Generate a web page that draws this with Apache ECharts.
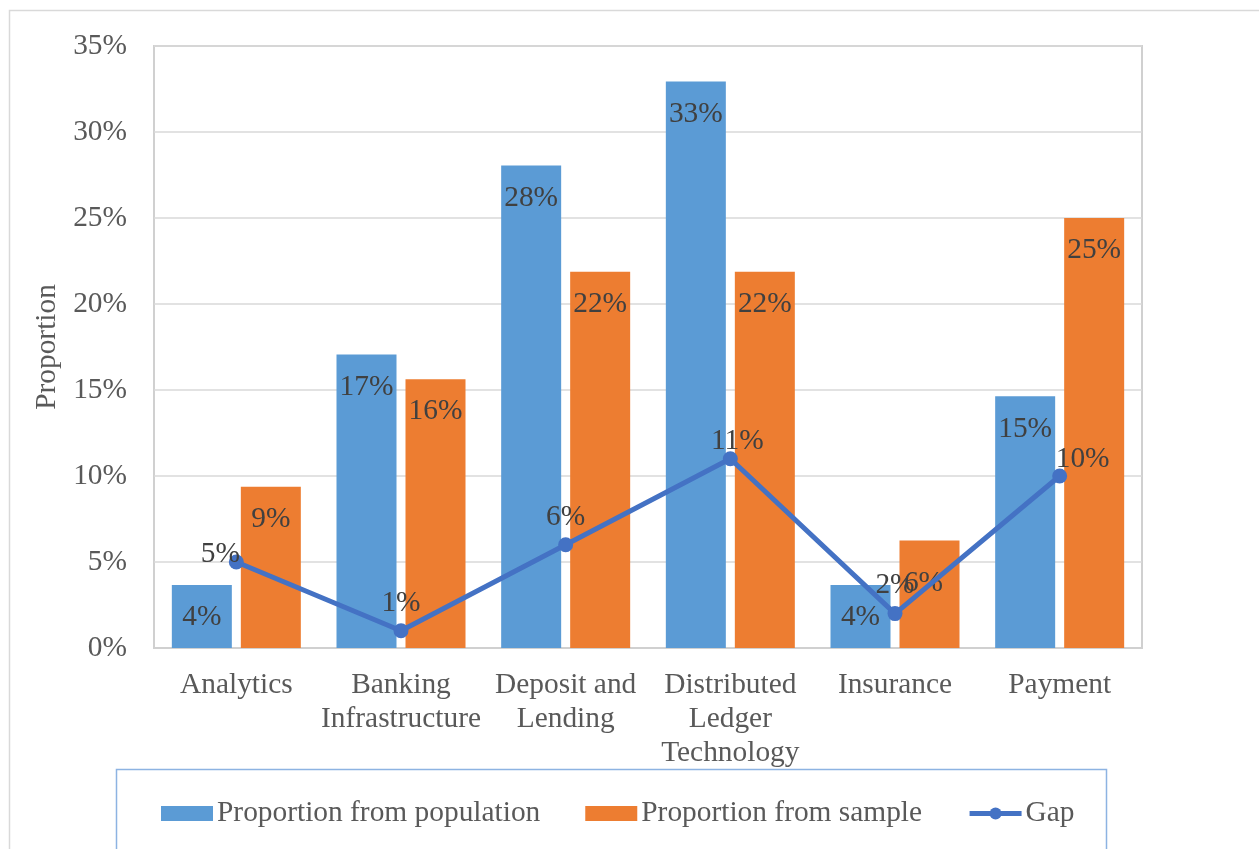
<!DOCTYPE html>
<html>
<head>
<meta charset="utf-8">
<title>Proportion by fintech segment</title>
<script src="https://cdn.jsdelivr.net/npm/echarts@6/dist/echarts.min.js"></script>
<style>
  html, body { margin: 0; padding: 0; background: #ffffff; }
  #chart { width: 1259px; height: 849px; }
</style>
</head>
<body>
<div id="chart"></div>
<script>
// Segments and their axis labels (wrapped as printed under the axis)
const categories = ['Analytics', 'Banking Infrastructure', 'Deposit and Lending', 'Distributed Ledger Technology', 'Insurance', 'Payment'];
const categoryLabels = ['Analytics', 'Banking\nInfrastructure', 'Deposit and\nLending', 'Distributed\nLedger\nTechnology', 'Insurance', 'Payment'];

// Shares in percent
const populationShare = [3.66, 17.07, 28.05, 32.93, 3.66, 14.63];
const sampleShare = [9.38, 15.63, 21.88, 21.88, 6.25, 25.0];
const gapShare = [5, 1, 6, 11, 2, 10];

// Value axis ticks
const yTicks = [0, 5, 10, 15, 20, 25, 30, 35];

const FONT = '"Liberation Serif", "Times New Roman", serif';
const FS = 29.4;
const TEXT_DARK = '#404040';
const TEXT_AXIS = '#595959';

// Small nudges for labels that are moved aside to avoid collisions
const gapLabelOffset = { 'Analytics': [-16, 20], 'Distributed Ledger Technology': [7, 10], 'Payment': [23, 11] };
const sampleLabelOffset = { 'Insurance': [-6, 10] };

const withOffsets = (values, offsets) => values.map((v, i) => {
  const off = offsets[categories[i]];
  return off ? { value: v, label: { offset: off } } : v;
});

const chart = echarts.init(document.getElementById('chart'));

const pctLabel = p => Math.round(p.value) + '%';

chart.setOption({
  backgroundColor: '#ffffff',
  animation: false,
  textStyle: { fontFamily: FONT },
  graphic: [
    {
      type: 'rect', z: -10, silent: true,
      shape: { x: 9.5, y: 10.5, width: 1300, height: 900 },
      style: { fill: 'none', stroke: '#d9d9d9', lineWidth: 1.5 }
    },
    {
      type: 'rect', z: -5, silent: true,
      shape: { x: 116.5, y: 769.5, width: 990, height: 120 },
      style: { fill: '#ffffff', stroke: '#8db3e2', lineWidth: 1.5 }
    }
  ],
  grid: {
    left: 154, right: 117, top: 46, bottom: 201,
    show: true, borderColor: '#d0d0d0', borderWidth: 2, backgroundColor: 'transparent'
  },
  legend: {
    left: 161, top: 799, padding: 0,
    itemWidth: 52, itemHeight: 15, itemGap: 45,
    textStyle: { fontFamily: FONT, fontSize: FS, color: TEXT_AXIS, padding: [0, 0, 0, -1] },
    data: [
      { name: 'Proportion from population', icon: 'rect' },
      { name: 'Proportion from sample', icon: 'rect' },
      { name: 'Gap', itemStyle: { color: '#4472c4' }, lineStyle: { width: 5 } }
    ]
  },
  xAxis: {
    type: 'category',
    data: categories,
    axisLine: { show: true, lineStyle: { color: '#d0d0d0', width: 2 } },
    axisTick: { show: false },
    axisLabel: {
      interval: 0, margin: 20,
      fontFamily: FONT, fontSize: FS, color: TEXT_AXIS, lineHeight: 34,
      formatter: (v, i) => categoryLabels[i]
    }
  },
  yAxis: {
    type: 'value',
    min: yTicks[0], max: yTicks[yTicks.length - 1], interval: 5,
    name: 'Proportion',
    nameLocation: 'middle', nameGap: 84, nameRotate: 90,
    nameTextStyle: { fontFamily: FONT, fontSize: FS, color: TEXT_AXIS },
    axisLine: { show: false },
    axisTick: { show: false },
    axisLabel: {
      margin: 27, fontFamily: FONT, fontSize: FS, color: TEXT_AXIS,
      lineHeight: 36, verticalAlign: 'middle', padding: [4, 0, 0, 0],
      formatter: v => yTicks.includes(v) ? v + '%' : ''
    },
    splitLine: { lineStyle: { color: '#d9d9d9', width: 1.5 } }
  },
  series: [
    {
      name: 'Proportion from population',
      type: 'bar',
      data: populationShare,
      barWidth: 60, barGap: '15%',
      itemStyle: { color: '#5b9bd5' },
      label: {
        show: true, position: 'insideTop', distance: 18,
        fontFamily: FONT, fontSize: FS, color: TEXT_DARK, formatter: pctLabel
      }
    },
    {
      name: 'Proportion from sample',
      type: 'bar',
      data: withOffsets(sampleShare, sampleLabelOffset),
      barWidth: 60, barGap: '15%',
      itemStyle: { color: '#ed7d31' },
      label: {
        show: true, position: 'insideTop', distance: 18,
        fontFamily: FONT, fontSize: FS, color: TEXT_DARK, formatter: pctLabel
      }
    },
    {
      name: 'Gap',
      type: 'line',
      data: withOffsets(gapShare, gapLabelOffset),
      symbol: 'circle', symbolSize: 15,
      z: 5,
      lineStyle: { color: '#4472c4', width: 5 },
      itemStyle: { color: '#4472c4' },
      label: {
        show: true, position: 'top', distance: 6,
        fontFamily: FONT, fontSize: FS, color: TEXT_DARK, formatter: pctLabel
      }
    }
  ]
});
</script>
</body>
</html>
